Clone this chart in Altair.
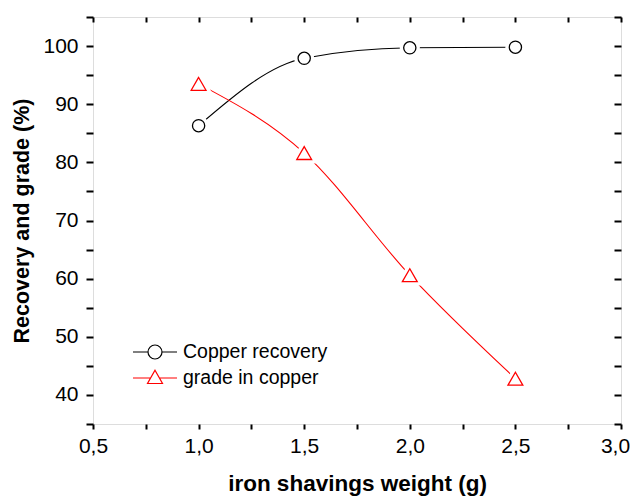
import altair as alt
import pandas as pd

# ---- data ----
weights = [1.0, 1.5, 2.0, 2.5]
recovery = [86.3, 97.9, 99.7, 99.8]
grade = [93.5, 81.6, 60.6, 42.8]
series_names = ["Copper recovery", "grade in copper"]
series_colors = ["#000000", "#ff0000"]

x_ticks = [0.5, 0.75, 1.0, 1.25, 1.5, 1.75, 2.0, 2.25, 2.5, 2.75, 3.0]
y_ticks = [35, 40, 45, 50, 55, 60, 65, 70, 75, 80, 85, 90, 95, 100, 105]

rec_df = pd.DataFrame({"w": weights, "v": recovery, "series": series_names[0]})
gr_df = pd.DataFrame({"w": weights, "v": grade, "series": series_names[1]})
all_df = pd.concat([rec_df, gr_df], ignore_index=True)

x_scale = alt.Scale(domain=[0.5, 3.0], nice=False, zero=False)
y_scale = alt.Scale(domain=[35, 105], nice=False, zero=False)

FONT = "Liberation Sans"
x_label_expr = ("abs(datum.value*2 - round(datum.value*2)) < 0.01 ? "
                "replace(format(datum.value, '.1f'), '.', ',') : ''")
y_label_expr = "datum.value % 10 == 0 ? format(datum.value, 'd') : ''"

common = dict(grid=False, domain=False, tickColor="black", tickWidth=2,
              labelFont=FONT, labelColor="black", titleFont=FONT,
              titleColor="black", titleFontWeight="bold",
              labelOverlap=False, labelFlush=False, labelBound=False)

ax_bottom = alt.Axis(orient="bottom", values=x_ticks, labelExpr=x_label_expr,
                     tickSize=5, labelFontSize=21, labelPadding=6,
                     labelOffset=alt.ExprRef("datum.value > 2.9 ? -6 : 0"),
                     title="iron shavings weight (g)", titleFontSize=22.5,
                     titlePadding=16, **common)
ax_left = alt.Axis(orient="left", values=y_ticks, labelExpr=y_label_expr,
                   tickSize=7, labelFontSize=21, labelPadding=8,
                   title="Recovery and grade (%)", titleFontSize=21.5,
                   titlePadding=9, **common)
ax_top = alt.Axis(orient="top", values=x_ticks, labels=False, tickSize=5,
                  offset=-5, title=None, **common)
ax_right = alt.Axis(orient="right", values=y_ticks, labels=False, tickSize=7,
                    offset=-7, title=None, **common)

base_rec = alt.Chart(rec_df)
base_gr = alt.Chart(gr_df)


def xy(axx=None, axy=None):
    return dict(
        x=alt.X("w:Q", scale=x_scale, axis=axx),
        y=alt.Y("v:Q", scale=y_scale, axis=axy),
    )


line_rec = base_rec.mark_line(interpolate="monotone", color=series_colors[0],
                              strokeWidth=1.1).encode(**xy(ax_bottom, ax_left))
line_gr = base_gr.mark_line(interpolate="monotone", color=series_colors[1],
                            strokeWidth=1.1).encode(**xy(ax_top, ax_right))

halo_rec = base_rec.mark_point(shape="circle", filled=True, fill="white",
                               stroke="white", strokeWidth=8, size=150,
                               opacity=1).encode(**xy())
halo_gr = base_gr.mark_point(shape="triangle-up", filled=True, fill="white",
                             stroke="white", strokeWidth=8, size=220,
                             opacity=1).encode(**xy())

pts_rec = base_rec.mark_point(shape="circle", filled=False,
                              stroke=series_colors[0], strokeWidth=1.3,
                              size=150, opacity=1).encode(**xy())
pts_gr = base_gr.mark_point(shape="triangle-up", filled=False,
                            stroke=series_colors[1], strokeWidth=1.3,
                            size=220, opacity=1).encode(**xy())

# legend glyphs: line stubs with the marker in the middle (unit = 10 px)
circle_path = ("M-2.2,0L-0.7,0M0.7,0L2.2,0"
               "M0.7,0A0.7,0.7,0,1,1,-0.7,0A0.7,0.7,0,1,1,0.7,0Z")
tri_path = ("M-2.2,0L-0.45,0M0.45,0L2.2,0"
            "M0,-0.78L0.75,0.55L-0.75,0.55Z")

legend_layer = alt.Chart(all_df).mark_point(
    filled=False, opacity=0, strokeWidth=1.2
).encode(
    **xy(),
    color=alt.Color("series:N",
                    scale=alt.Scale(domain=series_names, range=series_colors),
                    legend=alt.Legend(orient="none", legendX=51, legendY=324,
                                      title=None, labelFont=FONT,
                                      labelFontSize=19.5, labelColor="black",
                                      symbolSize=400, symbolStrokeWidth=1.2,
                                      symbolOpacity=1, labelOffset=17,
                                      rowPadding=5)),
    shape=alt.Shape("series:N",
                    scale=alt.Scale(domain=series_names,
                                    range=[circle_path, tri_path]),
                    legend=None),
)

chart = alt.layer(
    line_rec, line_gr, halo_rec, halo_gr, pts_rec, pts_gr, legend_layer
).resolve_axis(
    x="independent", y="independent"
).properties(
    width=528, height=407,
    autosize=alt.AutoSizeParams(type="none"),
    padding={"left": 85, "top": 9, "right": 9, "bottom": 72},
).configure_view(
    stroke="black", strokeWidth=2
).configure(background="white")

chart.save("out.html", embed_options={"renderer": "svg", "actions": False})
